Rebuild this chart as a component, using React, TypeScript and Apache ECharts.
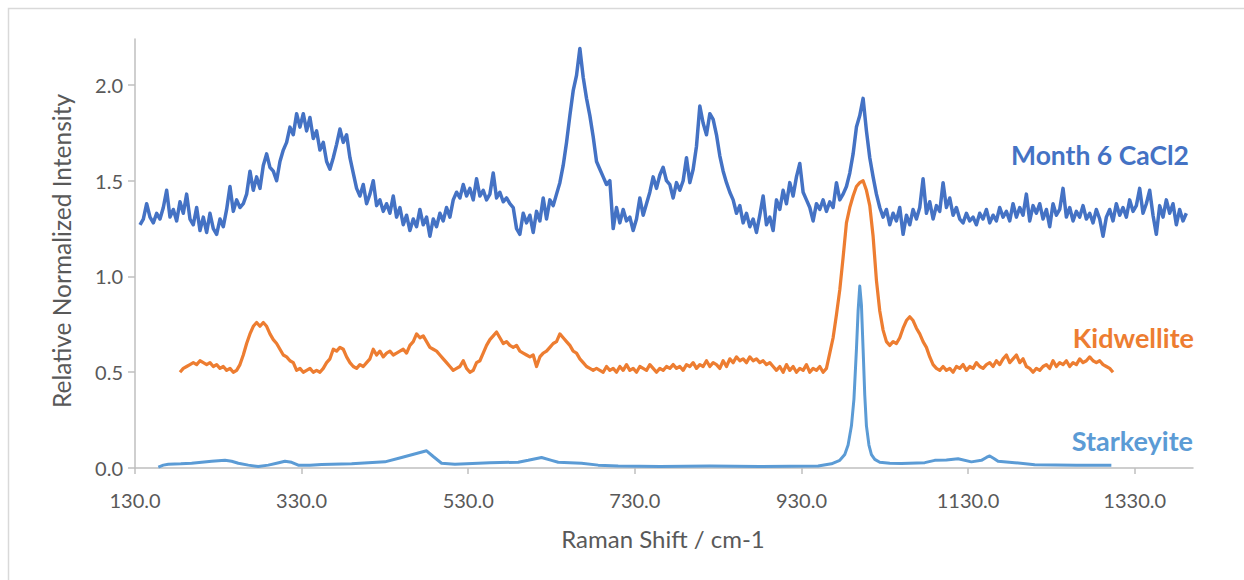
import React, { useEffect, useRef } from "react";
import * as echarts from "echarts";

// Raman shift axis (cm-1) and intensity axis tick positions
const X_TICKS = [130, 330, 530, 730, 930, 1130, 1330];
const Y_TICKS = [0, 0.5, 1.0, 1.5, 2.0];

// Month 6 CaCl2 spectrum, sampled every 4 cm-1 from 136 cm-1
const CACL2_START = 136;
const CACL2_STEP = 4;
const CACL2 = [
  1.27, 1.30, 1.38, 1.31, 1.28, 1.33, 1.30, 1.36, 1.45, 1.31,
  1.35, 1.29, 1.39, 1.33, 1.43, 1.30, 1.27, 1.36, 1.24, 1.31,
  1.23, 1.33, 1.25, 1.22, 1.30, 1.26, 1.35, 1.47, 1.34, 1.40,
  1.36, 1.38, 1.43, 1.55, 1.45, 1.52, 1.46, 1.58, 1.64, 1.57,
  1.55, 1.50, 1.60, 1.66, 1.70, 1.78, 1.74, 1.85, 1.78, 1.85,
  1.76, 1.83, 1.72, 1.76, 1.66, 1.70, 1.60, 1.56, 1.62, 1.69,
  1.77, 1.70, 1.74, 1.62, 1.54, 1.46, 1.42, 1.48, 1.38, 1.43,
  1.50, 1.37, 1.40, 1.34, 1.38, 1.33, 1.42, 1.31, 1.36, 1.27,
  1.32, 1.24, 1.30, 1.26, 1.35, 1.27, 1.31, 1.21, 1.30, 1.26,
  1.33, 1.29, 1.36, 1.31, 1.40, 1.44, 1.41, 1.48, 1.42, 1.46,
  1.40, 1.51, 1.42, 1.45, 1.40, 1.43, 1.54, 1.41, 1.44, 1.39,
  1.41, 1.38, 1.36, 1.25, 1.22, 1.33, 1.28, 1.32, 1.23, 1.34,
  1.29, 1.41, 1.30, 1.40, 1.37, 1.43, 1.49, 1.58, 1.70, 1.84,
  1.97, 2.05, 2.19, 2.04, 1.93, 1.84, 1.73, 1.60, 1.56, 1.52,
  1.48, 1.50, 1.25, 1.36, 1.28, 1.35, 1.29, 1.31, 1.24, 1.30,
  1.41, 1.32, 1.38, 1.44, 1.52, 1.46, 1.53, 1.57, 1.50, 1.48,
  1.41, 1.49, 1.45, 1.50, 1.62, 1.49, 1.56, 1.68, 1.89, 1.80,
  1.74, 1.85, 1.82, 1.74, 1.63, 1.55, 1.49, 1.44, 1.40, 1.33,
  1.37, 1.28, 1.33, 1.26, 1.30, 1.23, 1.32, 1.42, 1.27, 1.31,
  1.24, 1.40, 1.35, 1.45, 1.38, 1.49, 1.42, 1.52, 1.59, 1.44,
  1.40, 1.36, 1.29, 1.38, 1.35, 1.40, 1.34, 1.39, 1.36, 1.49,
  1.40, 1.43, 1.47, 1.54, 1.64, 1.78, 1.84, 1.93, 1.76, 1.62,
  1.52, 1.43, 1.36, 1.31, 1.35, 1.27, 1.33, 1.29, 1.36, 1.22,
  1.32, 1.27, 1.35, 1.30, 1.36, 1.51, 1.33, 1.39, 1.30, 1.37,
  1.34, 1.49, 1.36, 1.41, 1.32, 1.36, 1.30, 1.28, 1.33, 1.29,
  1.31, 1.27, 1.33, 1.30, 1.35, 1.28, 1.32, 1.29, 1.36, 1.31,
  1.34, 1.29, 1.38, 1.31, 1.36, 1.32, 1.43, 1.29, 1.37, 1.33,
  1.38, 1.30, 1.35, 1.26, 1.38, 1.32, 1.35, 1.46, 1.31, 1.36,
  1.29, 1.34, 1.31, 1.37, 1.30, 1.33, 1.28, 1.35, 1.30, 1.21,
  1.31, 1.35, 1.29, 1.38, 1.32, 1.36, 1.31, 1.40, 1.34, 1.37,
  1.46, 1.33, 1.38, 1.45, 1.32, 1.22, 1.37, 1.31, 1.40, 1.33,
  1.38, 1.27, 1.35, 1.29, 1.33,
];

// Kidwellite spectrum, sampled every 4 cm-1 from 184 cm-1
const KIDWELLITE_START = 184;
const KIDWELLITE_STEP = 4;
const KIDWELLITE = [
  0.50, 0.52, 0.53, 0.54, 0.55, 0.54, 0.56, 0.55, 0.54, 0.55,
  0.53, 0.54, 0.52, 0.53, 0.51, 0.52, 0.50, 0.51, 0.54, 0.59,
  0.65, 0.70, 0.74, 0.76, 0.74, 0.76, 0.74, 0.70, 0.67, 0.65,
  0.62, 0.59, 0.58, 0.56, 0.55, 0.51, 0.52, 0.50, 0.51, 0.52,
  0.50, 0.51, 0.50, 0.52, 0.55, 0.57, 0.62, 0.61, 0.63, 0.62,
  0.58, 0.55, 0.53, 0.52, 0.54, 0.53, 0.55, 0.57, 0.62, 0.59,
  0.61, 0.58, 0.60, 0.61, 0.59, 0.60, 0.61, 0.62, 0.60, 0.64,
  0.66, 0.70, 0.68, 0.69, 0.66, 0.63, 0.62, 0.61, 0.59, 0.57,
  0.55, 0.53, 0.51, 0.52, 0.53, 0.56, 0.52, 0.50, 0.51, 0.55,
  0.56, 0.60, 0.64, 0.67, 0.69, 0.71, 0.68, 0.65, 0.66, 0.64,
  0.63, 0.64, 0.61, 0.60, 0.59, 0.58, 0.59, 0.53, 0.58, 0.60,
  0.61, 0.63, 0.65, 0.66, 0.70, 0.68, 0.66, 0.64, 0.61, 0.60,
  0.57, 0.55, 0.53, 0.52, 0.51, 0.52, 0.51, 0.50, 0.53, 0.51,
  0.52, 0.50, 0.53, 0.51, 0.54, 0.51, 0.52, 0.50, 0.53, 0.52,
  0.51, 0.54, 0.52, 0.50, 0.52, 0.51, 0.53, 0.52, 0.54, 0.52,
  0.53, 0.51, 0.54, 0.53, 0.55, 0.52, 0.54, 0.53, 0.56, 0.53,
  0.55, 0.54, 0.52, 0.56, 0.53, 0.57, 0.55, 0.58, 0.56, 0.57,
  0.55, 0.58, 0.56, 0.57, 0.55, 0.56, 0.54, 0.55, 0.53, 0.51,
  0.53, 0.50, 0.54, 0.51, 0.53, 0.50, 0.52, 0.51, 0.54, 0.50,
  0.52, 0.51, 0.53, 0.50, 0.52, 0.60, 0.68, 0.80, 0.93, 1.10,
  1.28, 1.36, 1.42, 1.47, 1.49, 1.50, 1.45, 1.37, 1.21, 0.98,
  0.82, 0.72, 0.66, 0.64, 0.66, 0.65, 0.68, 0.73, 0.77, 0.79,
  0.77, 0.73, 0.70, 0.66, 0.63, 0.58, 0.54, 0.52, 0.51, 0.53,
  0.51, 0.52, 0.50, 0.53, 0.52, 0.54, 0.51, 0.53, 0.52, 0.55,
  0.53, 0.52, 0.54, 0.55, 0.53, 0.56, 0.54, 0.57, 0.59, 0.55,
  0.57, 0.59, 0.55, 0.57, 0.53, 0.52, 0.50, 0.52, 0.51, 0.53,
  0.54, 0.52, 0.56, 0.53, 0.55, 0.54, 0.56, 0.53, 0.55, 0.54,
  0.57, 0.55, 0.56, 0.58, 0.56, 0.55, 0.56, 0.54, 0.53, 0.52,
  0.50,
];

// Starkeyite spectrum as [Raman shift, intensity] pairs
const STARKEYITE: [number, number][] = [
  [158, 0.005], [164, 0.015], [170, 0.02], [185, 0.022], [198, 0.025],
  [222, 0.035], [238, 0.04], [246, 0.035], [254, 0.025], [266, 0.015],
  [278, 0.008], [290, 0.015], [300, 0.025], [310, 0.035], [318, 0.03],
  [326, 0.015], [340, 0.015], [354, 0.018], [390, 0.022], [430, 0.032],
  [450, 0.055], [470, 0.078], [480, 0.09], [488, 0.06], [498, 0.025],
  [514, 0.02], [556, 0.028], [590, 0.03], [602, 0.04], [618, 0.055],
  [630, 0.04], [638, 0.03], [666, 0.025], [686, 0.015], [710, 0.01],
  [760, 0.008], [820, 0.01], [880, 0.008], [950, 0.01], [966, 0.022],
  [976, 0.04], [982, 0.07], [986, 0.12], [990, 0.22], [993, 0.36],
  [996, 0.62], [998, 0.82], [1000, 0.95], [1002, 0.85], [1004, 0.62],
  [1006, 0.38], [1008, 0.22], [1011, 0.12], [1014, 0.07], [1018, 0.045],
  [1024, 0.03], [1036, 0.025], [1050, 0.024], [1078, 0.028], [1090, 0.04],
  [1104, 0.042], [1118, 0.048], [1134, 0.032], [1146, 0.04], [1152, 0.055],
  [1156, 0.063], [1161, 0.05], [1166, 0.035], [1186, 0.028], [1210, 0.017],
  [1260, 0.015], [1302, 0.015],
];

const SERIES_NAMES = ["Month 6 CaCl2", "Kidwellite", "Starkeyite"];
const COLORS = ["#4472C4", "#ED7D31", "#5B9BD5"];
const LINE_WIDTHS = [3.5, 3.25, 3];

const toPairs = (start: number, step: number, ys: number[]) =>
  ys.map((y, i) => [start + i * step, y]);

const FONT = "Lato, 'Open Sans', sans-serif";
const AXIS_TEXT = "#595959";
const AXIS_LINE = "#BFBFBF";

export default function App() {
  const ref = useRef<HTMLDivElement>(null);

  useEffect(() => {
    if (!ref.current) return;
    const chart = echarts.init(ref.current, undefined, { renderer: "svg" });

    const lineSeries = (name: string, data: number[][], color: string, width: number) => ({
      name,
      type: "line",
      data,
      showSymbol: false,
      symbol: "none",
      lineStyle: { color, width, join: "round" },
      itemStyle: { color },
    });

    chart.setOption({
      animation: false,
      backgroundColor: "#ffffff",
      textStyle: { fontFamily: FONT },
      grid: { left: 135, top: 39, right: 51, bottom: 112, containLabel: false },
      xAxis: {
        type: "value",
        min: 130,
        max: 1400,
        splitLine: { show: false },
        axisLine: { show: true, lineStyle: { color: AXIS_LINE, width: 1.5 } },
        axisTick: { show: true, length: 6, customValues: X_TICKS, lineStyle: { color: AXIS_LINE, width: 1.5 } },
        axisLabel: {
          customValues: X_TICKS,
          formatter: (v: number) => v.toFixed(1),
          color: AXIS_TEXT,
          fontSize: 20,
          fontFamily: FONT,
          margin: 22,
        },
      },
      yAxis: {
        type: "value",
        min: 0,
        max: 2.24,
        splitLine: { show: false },
        axisLine: { show: true, lineStyle: { color: AXIS_LINE, width: 1.5 } },
        axisTick: { show: true, length: 7, customValues: Y_TICKS, lineStyle: { color: AXIS_LINE, width: 1.5 } },
        axisLabel: {
          customValues: Y_TICKS,
          formatter: (v: number) => v.toFixed(1),
          color: AXIS_TEXT,
          fontSize: 20,
          fontFamily: FONT,
          margin: 12,
        },
      },
      series: [
        lineSeries(SERIES_NAMES[0], toPairs(CACL2_START, CACL2_STEP, CACL2), COLORS[0], LINE_WIDTHS[0]),
        lineSeries(SERIES_NAMES[1], toPairs(KIDWELLITE_START, KIDWELLITE_STEP, KIDWELLITE), COLORS[1], LINE_WIDTHS[1]),
        lineSeries(SERIES_NAMES[2], STARKEYITE, COLORS[2], LINE_WIDTHS[2]),
      ],
      graphic: [
        {
          type: "rect",
          z: -10,
          silent: true,
          shape: { x: 8.5, y: 8.5, width: 1260, height: 600 },
          style: { fill: "none", stroke: "#D9D9D9", lineWidth: 1.5 },
        },
        {
          type: "text",
          x: 663,
          y: 538,
          style: {
            text: "Raman Shift / cm-1",
            fill: AXIS_TEXT,
            font: `24px ${FONT}`,
            textAlign: "center",
            textVerticalAlign: "middle",
          },
        },
        {
          type: "text",
          x: 61,
          y: 251,
          rotation: Math.PI / 2,
          style: {
            text: "Relative Normalized Intensity",
            fill: AXIS_TEXT,
            font: `24.5px ${FONT}`,
            textAlign: "center",
            textVerticalAlign: "middle",
          },
        },
        {
          type: "text",
          x: 1011,
          y: 155,
          style: {
            text: SERIES_NAMES[0],
            fill: COLORS[0],
            font: `bold 26.5px ${FONT}`,
            textAlign: "left",
            textVerticalAlign: "middle",
          },
        },
        {
          type: "text",
          x: 1194,
          y: 337,
          style: {
            text: SERIES_NAMES[1],
            fill: COLORS[1],
            font: `bold 27px ${FONT}`,
            textAlign: "right",
            textVerticalAlign: "middle",
          },
        },
        {
          type: "text",
          x: 1193,
          y: 440,
          style: {
            text: SERIES_NAMES[2],
            fill: COLORS[2],
            font: `bold 27px ${FONT}`,
            textAlign: "right",
            textVerticalAlign: "middle",
          },
        },
      ],
    });

    return () => chart.dispose();
  }, []);

  return (
    <div
      ref={ref}
      style={{ position: "absolute", left: 0, top: 0, width: 1244, height: 580 }}
    />
  );
}
